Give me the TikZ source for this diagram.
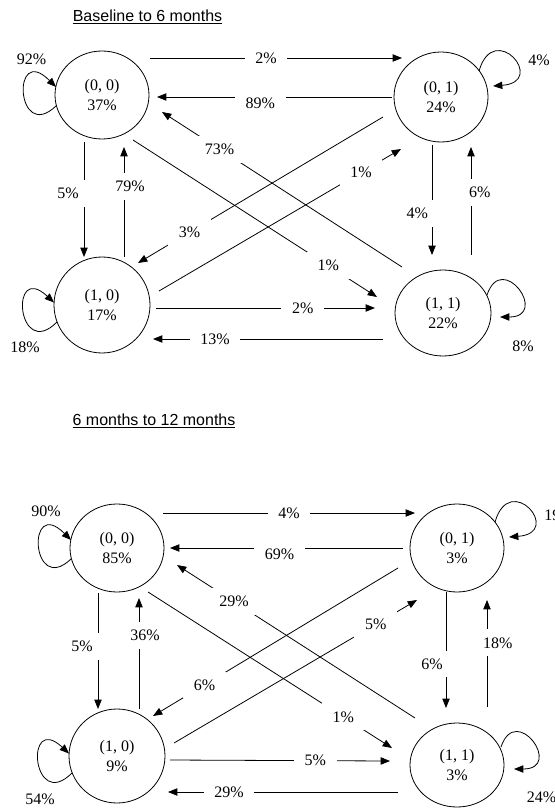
\documentclass[tikz,border=0pt]{standalone}
\usepackage{fontspec}
\setmainfont{Liberation Serif}
\newfontfamily\titlefont{Liberation Sans}
\usetikzlibrary{arrows.meta,calc,shapes.geometric}

\begin{document}
\begin{tikzpicture}[x=0.75pt, y=-0.75pt, >={Triangle[length=7pt,width=5.5pt]},
  font=\fontsize{12}{14.5}\selectfont, line width=0.6pt,
  stnode/.style={draw, ellipse, inner sep=0pt, minimum width=70.5pt, minimum height=66pt, align=center},
  lbl/.style={fill=white, inner xsep=8pt, inner ysep=6pt},
  ttl/.style={font=\titlefont\fontsize{12}{14.5}\selectfont}]
  \useasboundingbox (0,0) rectangle (555,812);

  % baseline to 6 months
  \node[ttl] (t1) at (147.5,17) {\underline{Baseline to 6 months}};
  \node[stnode] (a00) at (102,95) {(0, 0)\\37\%};
  \node[stnode, minimum height=67.5pt] (a01) at (441,97) {(0, 1)\\24\%};
  \node[stnode, minimum width=72pt, minimum height=72pt] (a10) at (102,305) {(1, 0)\\17\%};
  \node[stnode, minimum width=72pt, minimum height=64.5pt] (a11) at (443,313) {(1, 1)\\22\%};

  \draw[->] ($(a00)+(48,-37)$) -- node[lbl,pos=0.46]{2\%} ($(a01)+(-39,-39)$);
  \draw[->] ($(a01)+(-49,0)$) -- node[lbl,pos=0.56,yshift=-4.5pt]{89\%} ($(a00)+(55,2)$);
  \draw[->] ($(a11)+(-41,-46)$) -- node[lbl,pos=0.76]{73\%} ($(a00)+(60,17)$);
  \draw[->] ($(a00)+(31,45)$) -- node[lbl,pos=0.8]{1\%} ($(a11)+(-66,-16)$);
  \draw[->] ($(a01)+(-58,20)$) -- node[lbl,pos=0.79]{3\%} ($(a10)+(36,-42)$);
  \draw[->] ($(a10)+(57,-14)$) -- node[lbl,pos=0.835]{1\%} ($(a01)+(-40,52)$);
  \draw[->] ($(a00)+(-18,47)$) -- node[lbl,pos=0.45,xshift=-12pt]{5\%} ($(a10)+(-18,-48)$);
  \draw[->] ($(a10)+(22,-48)$) -- node[lbl,pos=0.64,xshift=4.5pt]{79\%} ($(a00)+(22,52)$);
  \draw[->] ($(a10)+(54,3)$) -- node[lbl,pos=0.67]{2\%} ($(a11)+(-68,-5)$);
  \draw[->] ($(a11)+(-60,26)$) -- node[lbl,pos=0.73]{13\%} ($(a10)+(51,34)$);
  \draw[->] ($(a01)+(-9,48)$) -- node[lbl,pos=0.62,xshift=-11pt]{4\%} ($(a11)+(-11,-58)$);
  \draw[->] ($(a11)+(28,-58)$) -- node[lbl,pos=0.58,xshift=6.5pt]{6\%} ($(a01)+(30,50)$);

  \draw[->] ($(a00)+(-46,11)$) .. controls +(-40,38) and +(-45,-45) .. ($(a00)+(-46,-8)$);
  \draw[->] ($(a10)+(-45,17)$) .. controls +(-40,40) and +(-45,-42) .. ($(a10)+(-48,-2.5)$);
  \draw[->] ($(a01)+(38,-26)$) .. controls +(15,-52) and +(55,-4) .. ($(a01)+(52,-11)$);
  \draw[->] ($(a11)+(44,-18)$) .. controls +(15,-45) and +(50,0) .. ($(a11)+(57,4)$);
  \node (p92) at (31.5,59) {92\%};
  \node (p4) at (539,60) {4\%};
  \node (p18) at (25,347) {18\%};
  \node (p8) at (523,346) {8\%};

  % 6 months to 12 months
  \node[ttl] (t2) at (154,421) {\underline{6 months to 12 months}};
  \node[stnode] (b00) at (117,548) {(0, 0)\\85\%};
  \node[stnode] (b01) at (457,548) {(0, 1)\\3\%};
  \node[stnode, minimum width=72pt, minimum height=70.5pt] (b10) at (117,756) {(1, 0)\\9\%};
  \node[stnode, minimum height=63pt] (b11) at (457,765) {(1, 1)\\3\%};

  \draw[->] ($(b00)+(46,-35)$) -- node[lbl,pos=0.5]{4\%} ($(b01)+(-42,-35)$);
  \draw[->] ($(b01)+(-54,0)$) -- node[lbl,pos=0.53,yshift=-4.5pt]{69\%} ($(b00)+(53,0)$);
  \draw[->] ($(b11)+(-42,-47)$) -- node[lbl,pos=0.76]{29\%} ($(b00)+(60,17)$);
  \draw[->] ($(b00)+(31,44)$) -- node[lbl,pos=0.8]{1\%} ($(b11)+(-65,-17)$);
  \draw[->] ($(b01)+(-59,20)$) -- node[lbl,pos=0.79]{6\%} ($(b10)+(36,-40)$);
  \draw[->] ($(b10)+(57,-13)$) -- node[lbl,pos=0.83]{5\%} ($(b01)+(-40,52)$);
  \draw[->] ($(b00)+(-19,45)$) -- node[lbl,pos=0.46,xshift=-12pt]{5\%} ($(b10)+(-19,-47)$);
  \draw[->] ($(b10)+(22,-47)$) -- node[lbl,pos=0.66,xshift=4.5pt]{36\%} ($(b00)+(22,50)$);
  \draw[->] ($(b10)+(53,4)$) -- node[lbl,pos=0.66]{5\%} ($(b11)+(-67,-4)$);
  \draw[->] ($(b11)+(-59,27)$) -- node[lbl,pos=0.735]{29\%} ($(b10)+(51,36)$);
  \draw[->] ($(b01)+(-11,44)$) -- node[lbl,pos=0.62,xshift=-10.5pt]{6\%} ($(b11)+(-11,-57)$);
  \draw[->] ($(b11)+(30,-58)$) -- node[lbl,pos=0.6,xshift=8pt]{18\%} ($(b01)+(30,52)$);

  \draw[->] ($(b00)+(-46,11)$) .. controls +(-40,38) and +(-45,-45) .. ($(b00)+(-46,-8)$);
  \draw[->] ($(b10)+(-45,17)$) .. controls +(-40,40) and +(-45,-42) .. ($(b10)+(-48,-2.5)$);
  \draw[->] ($(b01)+(38,-26)$) .. controls +(15,-52) and +(55,-4) .. ($(b01)+(52,-11)$);
  \draw[->] ($(b11)+(44,-18)$) .. controls +(15,-45) and +(50,0) .. ($(b11)+(57,4)$);
  \node (p90) at (46,511) {90\%};
  \node (p19) at (559,515) {19\%};
  \node (p54) at (40,799) {54\%};
  \node (p24) at (541.5,797.5) {24\%};
\end{tikzpicture}
\end{document}
